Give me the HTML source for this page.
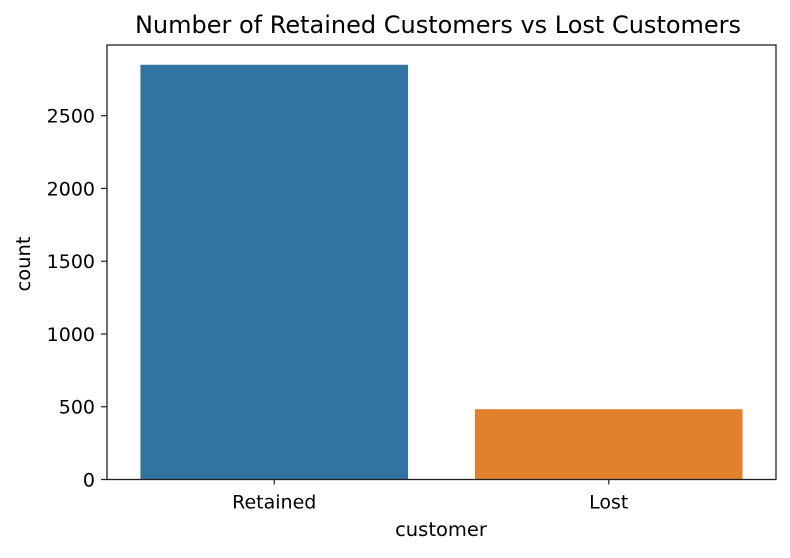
<!DOCTYPE html>
<html><head><meta charset="utf-8"><style>
body{margin:0;background:#fff;font-family:"DejaVu Sans","Liberation Sans",sans-serif;}
svg text{fill:#000;}
</style></head><body>
<svg id="chart" width="790" height="554" xmlns="http://www.w3.org/2000/svg">
<text x="438" y="33" font-size="24" text-anchor="middle">Number of Retained Customers vs Lost Customers</text>
<g id="bars"></g><g id="yticks"></g><g id="xticks"></g>
<rect x="107" y="45" width="669" height="434.5" fill="none" stroke="#222" stroke-width="1.3"/>
<text x="441" y="536" font-size="19.5" text-anchor="middle">customer</text>
<text transform="translate(30,264) rotate(-90)" font-size="19.5" text-anchor="middle">count</text>
</svg>
<script>
const categories=["Retained","Lost"];
const counts=[2850,483];
const colors=["#3274a1","#e1812c"];
const yTicks=[0,500,1000,1500,2000,2500];
const L=107,R=776,T=45,B=479.5;
const y=v=>B-v*(B-115.7)/2500;
const band=(R-L)/categories.length;
const x=i=>L+band*i;
const NS="http://www.w3.org/2000/svg";
function mk(t,a,p){const e=document.createElementNS(NS,t);for(const k in a)e.setAttribute(k,a[k]);p.appendChild(e);return e;}
const bars=document.getElementById('bars'),yt=document.getElementById('yticks'),xt=document.getElementById('xticks');
categories.forEach((c,i)=>{
 const r=mk('rect',{x:x(i)+band*0.1,y:y(counts[i]),width:band*0.8,height:B-y(counts[i]),fill:colors[i]},bars);
 
 
 const cx=x(i)+band/2;
 mk('line',{x1:cx,x2:cx,y1:B,y2:B+5,stroke:'#222','stroke-width':1.2},xt);
 const t=mk('text',{x:cx,y:B+29,'font-size':19,'text-anchor':'middle'},xt);
 t.textContent=c;
 
 
});
yTicks.forEach(v=>{
 mk('line',{x1:L-6,x2:L,y1:y(v),y2:y(v),stroke:'#222','stroke-width':1.2},yt);
 const t=mk('text',{x:L-12,y:y(v)+7,'font-size':19,'text-anchor':'end'},yt);
 t.textContent=v;
 
 
});
</script>
</body></html>
